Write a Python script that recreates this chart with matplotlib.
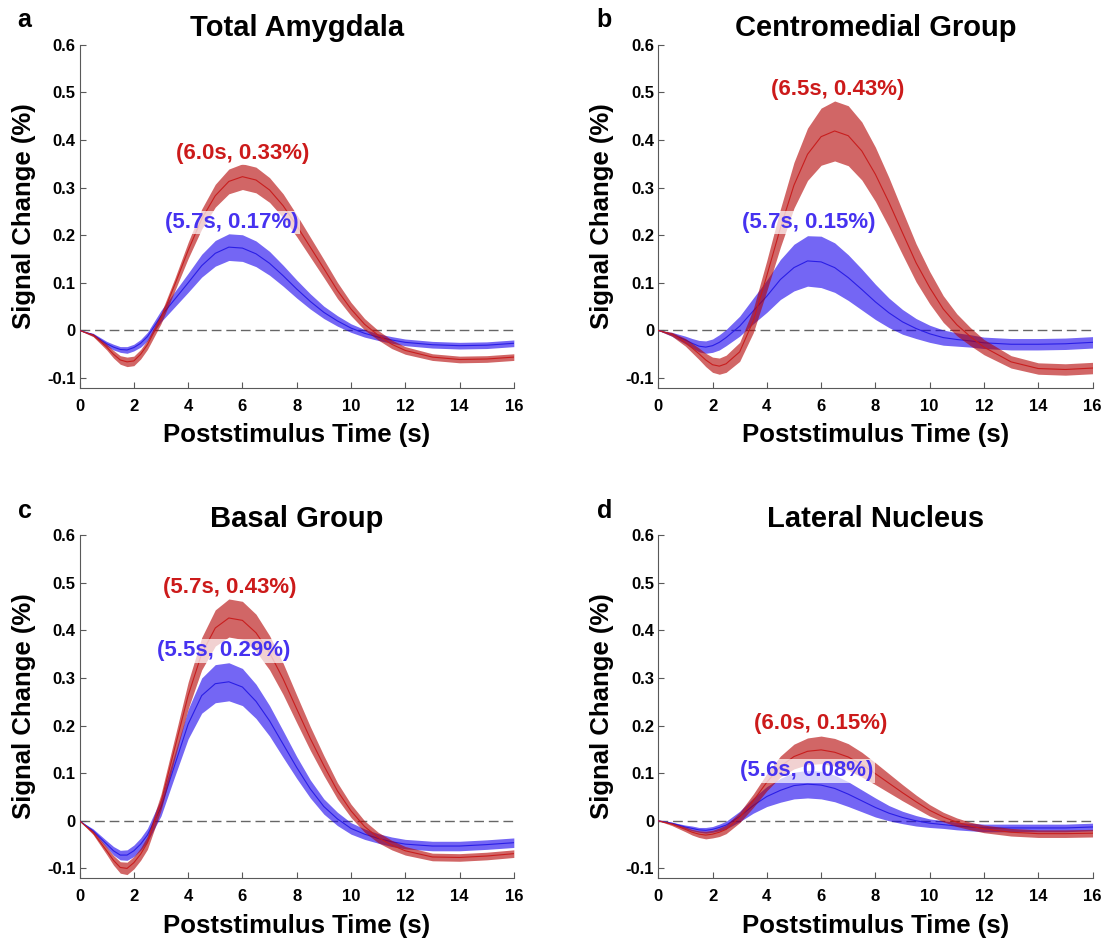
import matplotlib
matplotlib.use('Agg')
import numpy as np
from matplotlib import pyplot as plt

plt.rcParams['font.family'] = ['Liberation Sans', 'DejaVu Sans']
plt.rcParams['font.weight'] = 'bold'

time_s = [0, 0.5, 1, 1.25, 1.5, 1.75, 2, 2.25, 2.5, 3, 3.5, 4, 4.5, 5, 5.5, 6, 6.5, 7, 7.5,
          8, 8.5, 9, 9.5, 10, 10.5, 11, 11.5, 12, 13, 14, 15, 16]

titles = ["Total Amygdala", "Centromedial Group", "Basal Group", "Lateral Nucleus"]
letters = ["a", "b", "c", "d"]

# red = first condition, blue = second condition (mean and half band width)
red_a = [0, -0.01, -0.035, -0.05, -0.062, -0.066, -0.064, -0.05, -0.03, 0.025, 0.095, 0.168,
         0.234, 0.283, 0.313, 0.323, 0.316, 0.295, 0.262, 0.22, 0.175, 0.13, 0.084, 0.045,
         0.013, -0.01, -0.029, -0.042, -0.056, -0.061, -0.06, -0.056]
red_a_err = [0, 0.003, 0.006, 0.008, 0.009, 0.01, 0.01, 0.01, 0.01, 0.011, 0.013, 0.017,
             0.021, 0.024, 0.026, 0.027, 0.027, 0.026, 0.025, 0.023, 0.021, 0.019, 0.017, 0.014,
             0.012, 0.01, 0.009, 0.008, 0.007, 0.007, 0.007, 0.007]
blue_a = [0, -0.009, -0.028, -0.035, -0.04, -0.041, -0.036, -0.027, -0.013, 0.03, 0.065, 0.1,
          0.136, 0.162, 0.175, 0.173, 0.161, 0.141, 0.115, 0.087, 0.061, 0.038, 0.02, 0.005,
          -0.006, -0.014, -0.02, -0.025, -0.03, -0.032, -0.031, -0.027]
blue_a_err = [0, 0.003, 0.005, 0.006, 0.006, 0.007, 0.007, 0.008, 0.009, 0.012, 0.016, 0.02,
              0.024, 0.027, 0.028, 0.028, 0.027, 0.025, 0.022, 0.019, 0.016, 0.013, 0.011, 0.009,
              0.008, 0.007, 0.007, 0.007, 0.007, 0.007, 0.007, 0.007]

red_b = [0, -0.008, -0.025, -0.037, -0.049, -0.062, -0.072, -0.075, -0.07, -0.045, 0.02, 0.115,
         0.215, 0.305, 0.37, 0.407, 0.419, 0.409, 0.377, 0.328, 0.269, 0.205, 0.142, 0.09,
         0.045, 0.012, -0.013, -0.035, -0.066, -0.08, -0.082, -0.079]
red_b_err = [0, 0.004, 0.008, 0.01, 0.012, 0.014, 0.016, 0.017, 0.018, 0.02, 0.025, 0.032,
             0.04, 0.048, 0.055, 0.06, 0.063, 0.063, 0.061, 0.057, 0.052, 0.046, 0.04, 0.034,
             0.028, 0.023, 0.019, 0.016, 0.013, 0.012, 0.012, 0.012]
blue_b = [0, -0.008, -0.02, -0.027, -0.033, -0.035, -0.032, -0.025, -0.015, 0.009, 0.041, 0.072,
          0.107, 0.132, 0.146, 0.144, 0.132, 0.111, 0.086, 0.06, 0.037, 0.018, 0.004, -0.007,
          -0.015, -0.019, -0.022, -0.026, -0.029, -0.029, -0.028, -0.025]
blue_b_err = [0, 0.004, 0.008, 0.01, 0.012, 0.013, 0.014, 0.016, 0.017, 0.021, 0.027, 0.034,
              0.042, 0.049, 0.053, 0.054, 0.052, 0.048, 0.043, 0.037, 0.031, 0.026, 0.021, 0.018,
              0.016, 0.014, 0.013, 0.012, 0.012, 0.012, 0.012, 0.012]

red_c = [0, -0.025, -0.063, -0.083, -0.098, -0.1, -0.088, -0.07, -0.046, 0.039, 0.151, 0.263,
         0.351, 0.405, 0.426, 0.421, 0.395, 0.353, 0.298, 0.235, 0.173, 0.116, 0.063, 0.021,
         -0.012, -0.035, -0.051, -0.063, -0.076, -0.077, -0.074, -0.069]
red_c_err = [0, 0.004, 0.008, 0.01, 0.012, 0.013, 0.013, 0.013, 0.014, 0.017, 0.022, 0.028,
             0.034, 0.038, 0.04, 0.04, 0.039, 0.036, 0.033, 0.029, 0.025, 0.021, 0.017, 0.014,
             0.012, 0.011, 0.01, 0.009, 0.008, 0.008, 0.008, 0.008]
blue_c = [0, -0.021, -0.049, -0.063, -0.072, -0.072, -0.063, -0.049, -0.03, 0.028, 0.116, 0.203,
          0.263, 0.288, 0.292, 0.281, 0.251, 0.21, 0.161, 0.112, 0.067, 0.03, 0.004, -0.016,
          -0.028, -0.037, -0.044, -0.049, -0.053, -0.053, -0.05, -0.046]
blue_c_err = [0, 0.004, 0.007, 0.009, 0.01, 0.011, 0.012, 0.013, 0.014, 0.018, 0.024, 0.031,
              0.037, 0.04, 0.04, 0.039, 0.036, 0.032, 0.028, 0.023, 0.019, 0.016, 0.014, 0.012,
              0.011, 0.01, 0.01, 0.01, 0.01, 0.01, 0.01, 0.01]

red_d = [0, -0.007, -0.018, -0.024, -0.028, -0.03, -0.028, -0.024, -0.018, 0.007, 0.042, 0.081,
         0.114, 0.135, 0.146, 0.149, 0.144, 0.134, 0.118, 0.099, 0.079, 0.059, 0.04, 0.022,
         0.008, -0.003, -0.011, -0.017, -0.024, -0.027, -0.027, -0.026]
red_d_err = [0, 0.003, 0.005, 0.006, 0.007, 0.008, 0.008, 0.009, 0.009, 0.011, 0.014, 0.018,
             0.022, 0.026, 0.028, 0.029, 0.029, 0.028, 0.026, 0.023, 0.02, 0.017, 0.014, 0.012,
             0.01, 0.009, 0.008, 0.008, 0.008, 0.008, 0.008, 0.008]
blue_d = [0, -0.005, -0.013, -0.016, -0.019, -0.02, -0.018, -0.014, -0.009, 0.009, 0.032, 0.051,
          0.064, 0.074, 0.077, 0.075, 0.068, 0.056, 0.042, 0.028, 0.016, 0.007, 0.0, -0.005,
          -0.008, -0.011, -0.013, -0.015, -0.015, -0.015, -0.015, -0.013]
blue_d_err = [0, 0.002, 0.004, 0.005, 0.005, 0.006, 0.006, 0.007, 0.008, 0.011, 0.016, 0.021,
              0.025, 0.028, 0.029, 0.029, 0.028, 0.026, 0.023, 0.02, 0.016, 0.013, 0.011, 0.009,
              0.008, 0.008, 0.008, 0.008, 0.008, 0.008, 0.008, 0.008]

red_series = [(red_a, red_a_err), (red_b, red_b_err), (red_c, red_c_err), (red_d, red_d_err)]
blue_series = [(blue_a, blue_a_err), (blue_b, blue_b_err), (blue_c, blue_c_err), (blue_d, blue_d_err)]

# peak labels: (text, x, y)
red_peaks = [("(6.0s, 0.33%)", 6.0, 0.372), ("(6.5s, 0.43%)", 6.6, 0.506),
             ("(5.7s, 0.43%)", 5.55, 0.49), ("(6.0s, 0.15%)", 6.0, 0.204)]
blue_peaks = [("(5.7s, 0.17%)", 5.6, 0.227), ("(5.7s, 0.15%)", 5.55, 0.227),
              ("(5.5s, 0.29%)", 5.3, 0.357), ("(5.6s, 0.08%)", 5.48, 0.105)]

yticks = [-0.1, 0, 0.1, 0.2, 0.3, 0.4, 0.5, 0.6]
ytick_labels = ["-0.1", "0", "0.1", "0.2", "0.3", "0.4", "0.5", "0.6"]
xticks = [0, 2, 4, 6, 8, 10, 12, 14, 16]

positions = [[0.072, 0.589, 0.393, 0.3635], [0.5957, 0.589, 0.393, 0.3635],
             [0.072, 0.069, 0.393, 0.3635], [0.5957, 0.069, 0.393, 0.3635]]
letter_pos = [(0.016, 0.971), (0.54, 0.971), (0.016, 0.451), (0.54, 0.451)]

red_fill = (0.70, 0.0, 0.0)
blue_fill = (0.09, 0.0, 0.93)
red_line = '#c81e1e'
blue_line = '#2a1ee6'

t = np.array(time_s)
fig = plt.figure(figsize=(11.05, 9.43), dpi=100)

for i in range(4):
    ax = fig.add_axes(positions[i])
    bm, be = np.array(blue_series[i][0]), np.array(blue_series[i][1])
    rm, re = np.array(red_series[i][0]), np.array(red_series[i][1])

    ax.axhline(0, color='0.4', lw=1.0, dashes=(7, 3.5), zorder=1)
    ax.fill_between(t, bm - be, bm + be, color=blue_fill, alpha=0.6, lw=0, zorder=2)
    ax.plot(t, bm, color=blue_line, lw=0.8, zorder=3)
    ax.fill_between(t, rm - re, rm + re, color=red_fill, alpha=0.6, lw=0, zorder=4)
    ax.plot(t, rm, color=red_line, lw=0.8, zorder=5)

    bbox = dict(facecolor='white', edgecolor='none', alpha=0.7, pad=1)
    txt, x, y = red_peaks[i]
    ax.text(x, y, txt, color='#cc1a1a', fontsize=16, fontweight='bold',
            ha='center', va='center', bbox=bbox, zorder=6)
    txt, x, y = blue_peaks[i]
    ax.text(x, y, txt, color='#4632f0', fontsize=16, fontweight='bold',
            ha='center', va='center', bbox=bbox, zorder=6)

    ax.set_xlim(0, 16)
    ax.set_ylim(-0.12, 0.6)
    ax.set_xticks(xticks)
    ax.set_yticks(yticks)
    ax.set_yticklabels(ytick_labels)
    ax.tick_params(direction='in', length=4, width=0.8, color='0.35', labelsize=12, pad=8)
    ax.tick_params(axis='y', pad=3)
    ax.spines['top'].set_visible(False)
    ax.spines['right'].set_visible(False)
    ax.spines['left'].set_color('0.35')
    ax.spines['bottom'].set_color('0.35')

    ax.set_title(titles[i], fontsize=21, fontweight='bold', pad=6)
    ax.set_xlabel("Poststimulus Time (s)", fontsize=18.5, fontweight='bold', labelpad=7)
    ax.set_ylabel("Signal Change (%)", fontsize=18.5, fontweight='bold', labelpad=8)

    fig.text(letter_pos[i][0], letter_pos[i][1], letters[i], fontsize=18, fontweight='bold')

plt.savefig('out.png', dpi=100)
